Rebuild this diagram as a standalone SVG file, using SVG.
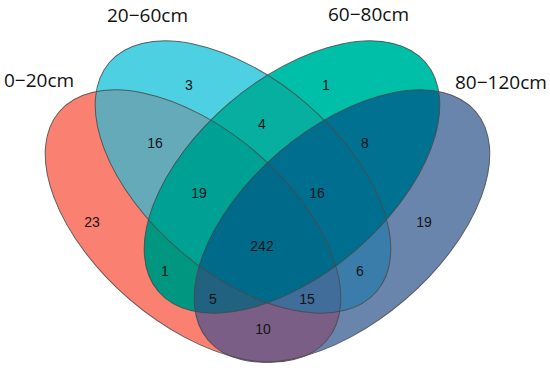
<svg xmlns="http://www.w3.org/2000/svg" xmlns:xlink="http://www.w3.org/1999/xlink" width="550" height="368" viewBox="0 0 550 368">
<style>
.lbl{font-family:"Open Sans","Liberation Sans",sans-serif;font-size:19px;fill:#111}
.num{font-family:"Liberation Sans",Arial,sans-serif;font-size:14px;fill:#141414;text-anchor:middle}
.outline{fill:none;stroke:#4a4a4a;stroke-width:1;stroke-opacity:0.85}
</style>
<defs>
<ellipse id="eA" cx="0" cy="0" rx="176" ry="97" transform="translate(193 226) rotate(40.6)"/>
<ellipse id="eB" cx="0" cy="0" rx="176" ry="97" transform="translate(243 177) rotate(40.6)"/>
<ellipse id="eC" cx="0" cy="0" rx="176" ry="97" transform="translate(292 177) rotate(-40.6)"/>
<ellipse id="eD" cx="0" cy="0" rx="176" ry="97" transform="translate(342 226) rotate(-40.6)"/>
<clipPath id="cA"><ellipse cx="0" cy="0" rx="176" ry="97" transform="translate(193 226) rotate(40.6)"/></clipPath>
<clipPath id="cB"><ellipse cx="0" cy="0" rx="176" ry="97" transform="translate(243 177) rotate(40.6)"/></clipPath>
<clipPath id="cC"><ellipse cx="0" cy="0" rx="176" ry="97" transform="translate(292 177) rotate(-40.6)"/></clipPath>
<clipPath id="cD"><ellipse cx="0" cy="0" rx="176" ry="97" transform="translate(342 226) rotate(-40.6)"/></clipPath>
</defs>
<rect width="550" height="368" fill="#ffffff"/>
<g id="regions">
<use xlink:href="#eA" fill="#FA8072"/>
<use xlink:href="#eB" fill="#4DD0E1"/>
<use xlink:href="#eC" fill="#00BFA8"/>
<use xlink:href="#eD" fill="#6985AC"/>
<use xlink:href="#eB" fill="#64AAB9" clip-path="url(#cA)"/>
<use xlink:href="#eC" fill="#009680" clip-path="url(#cA)"/>
<use xlink:href="#eD" fill="#7B5E86" clip-path="url(#cA)"/>
<use xlink:href="#eC" fill="#06AFA0" clip-path="url(#cB)"/>
<use xlink:href="#eD" fill="#3A7DAA" clip-path="url(#cB)"/>
<use xlink:href="#eD" fill="#007191" clip-path="url(#cC)"/>
<g clip-path="url(#cA)"><use xlink:href="#eC" fill="#00A195" clip-path="url(#cB)"/></g>
<g clip-path="url(#cA)"><use xlink:href="#eD" fill="#416D9B" clip-path="url(#cB)"/></g>
<g clip-path="url(#cA)"><use xlink:href="#eD" fill="#20627F" clip-path="url(#cC)"/></g>
<g clip-path="url(#cB)"><use xlink:href="#eD" fill="#006F8F" clip-path="url(#cC)"/></g>
<g clip-path="url(#cA)"><g clip-path="url(#cB)"><use xlink:href="#eD" fill="#006A8B" clip-path="url(#cC)"/></g></g>
</g>
<g id="set-0-20cm">
<use xlink:href="#eA" class="outline"/>
<text class="lbl" x="4" y="87">0−20cm</text>
</g>
<g id="set-20-60cm">
<use xlink:href="#eB" class="outline"/>
<text class="lbl" x="107" y="22">20−60cm</text>
</g>
<g id="set-60-80cm">
<use xlink:href="#eC" class="outline"/>
<text class="lbl" x="328" y="21">60−80cm</text>
</g>
<g id="set-80-120cm">
<use xlink:href="#eD" class="outline"/>
<text class="lbl" x="455" y="89">80−120cm</text>
</g>
<g id="counts">
<text class="num" x="92" y="227">23</text>
<text class="num" x="189" y="90">3</text>
<text class="num" x="155" y="148">16</text>
<text class="num" x="262" y="129">4</text>
<text class="num" x="326" y="90">1</text>
<text class="num" x="365" y="148">8</text>
<text class="num" x="199" y="198">19</text>
<text class="num" x="317" y="198">16</text>
<text class="num" x="262" y="251">242</text>
<text class="num" x="165" y="276">1</text>
<text class="num" x="360" y="276">6</text>
<text class="num" x="424" y="227">19</text>
<text class="num" x="213" y="304">5</text>
<text class="num" x="307" y="304">15</text>
<text class="num" x="263" y="334">10</text>
</g>
</svg>
